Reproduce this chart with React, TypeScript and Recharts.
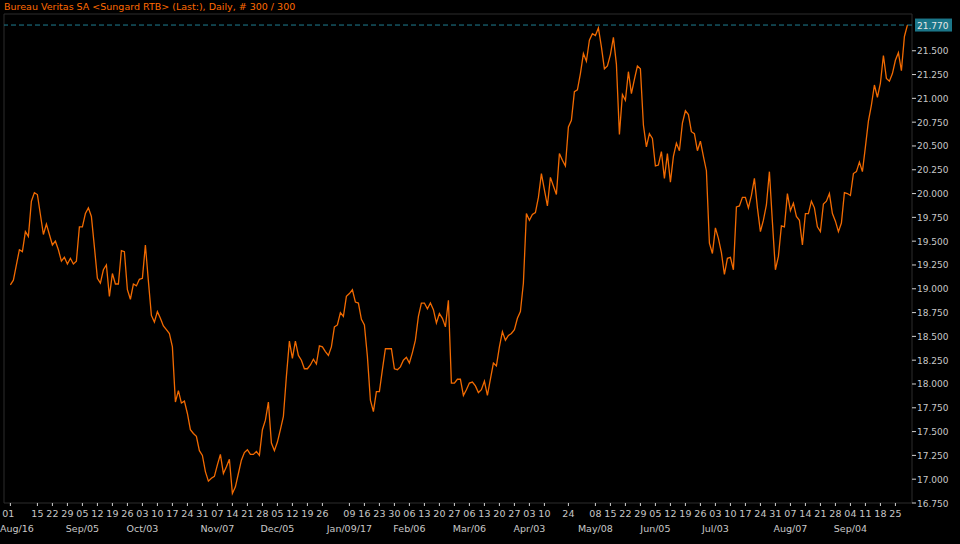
import React from 'react';
import { LineChart, Line, XAxis, YAxis, ReferenceLine, ReferenceArea } from 'recharts';

// daily closes, Aug 01 2016 .. Sep 29 2017 (300 sessions)
const prices = [
  19.04, 19.09, 19.25, 19.41, 19.39, 19.60, 19.55, 19.92, 20.01, 19.99,
  19.78, 19.57, 19.68, 19.57, 19.46, 19.50, 19.41, 19.29, 19.33, 19.26,
  19.32, 19.26, 19.29, 19.65, 19.65, 19.79, 19.85, 19.76, 19.44, 19.11,
  19.06, 19.20, 19.25, 18.92, 19.16, 19.05, 19.05, 19.40, 19.39, 18.99,
  18.89, 19.05, 19.03, 19.10, 19.11, 19.46, 19.08, 18.72, 18.65, 18.76,
  18.69, 18.61, 18.57, 18.53, 18.39, 17.81, 17.93, 17.80, 17.82, 17.69,
  17.52, 17.48, 17.45, 17.30, 17.25, 17.08, 16.98, 17.01, 17.03, 17.15,
  17.26, 17.06, 17.13, 17.21, 16.85, 16.92, 17.06, 17.20, 17.28, 17.31,
  17.26, 17.26, 17.29, 17.25, 17.52, 17.62, 17.81, 17.38, 17.30, 17.39,
  17.52, 17.66, 18.08, 18.45, 18.27, 18.45, 18.30, 18.25, 18.16, 18.16,
  18.20, 18.26, 18.21, 18.40, 18.39, 18.34, 18.30, 18.39, 18.60, 18.62,
  18.75, 18.71, 18.92, 18.95, 18.99, 18.86, 18.85, 18.68, 18.62, 18.29,
  17.83, 17.71, 17.92, 17.92, 18.15, 18.37, 18.37, 18.37, 18.16, 18.15,
  18.18, 18.25, 18.28, 18.22, 18.33, 18.46, 18.71, 18.85, 18.85, 18.79,
  18.85, 18.78, 18.64, 18.74, 18.69, 18.60, 18.88, 18.01, 18.01, 18.05,
  18.05, 17.88, 17.94, 18.01, 18.02, 17.98, 17.91, 17.94, 18.03, 17.88,
  18.05, 18.22, 18.19, 18.39, 18.55, 18.46, 18.51, 18.53, 18.57, 18.69,
  18.76, 19.06, 19.79, 19.72, 19.78, 19.80, 19.96, 20.21, 20.04, 19.87,
  20.17, 20.08, 19.99, 20.42, 20.35, 20.29, 20.70, 20.77, 21.07, 21.09,
  21.26, 21.47, 21.39, 21.61, 21.68, 21.66, 21.74, 21.54, 21.31, 21.34,
  21.46, 21.64, 21.36, 20.62, 21.04, 20.98, 21.28, 21.05, 21.20, 21.34,
  21.31, 20.72, 20.49, 20.63, 20.58, 20.29, 20.30, 20.44, 20.16, 20.42,
  20.12, 20.39, 20.53, 20.45, 20.74, 20.87, 20.83, 20.65, 20.63, 20.45,
  20.55, 20.39, 20.24, 19.48, 19.37, 19.64, 19.53, 19.38, 19.15, 19.32,
  19.33, 19.20, 19.86, 19.87, 19.96, 19.96, 19.85, 19.98, 20.16, 19.85,
  19.60, 19.72, 19.88, 20.23, 19.70, 19.20, 19.34, 19.66, 19.65, 20.00,
  19.82, 19.90, 19.76, 19.72, 19.46, 19.79, 19.79, 19.92, 19.85, 19.65,
  19.60, 19.89, 19.92, 20.00, 19.79, 19.71, 19.60, 19.69, 20.01, 20.00,
  19.98, 20.21, 20.23, 20.33, 20.23, 20.49, 20.76, 20.93, 21.14, 21.01,
  21.16, 21.45, 21.21, 21.18, 21.26, 21.40, 21.48, 21.29, 21.65, 21.77,
];

// session index of each weekly tick
const tickIndex = [
  0, 9, 14, 19, 24, 29, 34, 39, 44, 49, 54, 59, 64, 69, 74, 79, 84, 89, 94, 99, 104,
  113, 118, 123, 128, 133, 138, 143, 148, 153, 158, 163, 168, 173, 178, 186,
  195, 200, 205, 210, 215, 220, 225, 230, 235, 240, 245, 250, 255, 260, 265, 270, 275,
  280, 285, 290, 295,
];
const dayLabels = [
  '01', '15', '22', '29', '05', '12', '19', '26', '03', '10', '17', '24', '31', '07', '14', '21', '28', '05', '12', '19', '26',
  '09', '16', '23', '30', '06', '13', '20', '27', '06', '13', '20', '27', '03', '10', '24',
  '08', '15', '22', '29', '05', '12', '19', '26', '03', '10', '17', '24', '31', '07', '14', '21', '28',
  '04', '11', '18', '25',
];
const monthLabels = [
  'Aug/16', '', '', '', 'Sep/05', '', '', '', 'Oct/03', '', '', '', '', 'Nov/07', '', '', '', 'Dec/05', '', '', '',
  'Jan/09/17', '', '', '', 'Feb/06', '', '', '', 'Mar/06', '', '', '', 'Apr/03', '', '',
  'May/08', '', '', '', 'Jun/05', '', '', '', 'Jul/03', '', '', '', '', 'Aug/07', '', '', '',
  'Sep/04', '', '', '',
];
const priceTicks = [
  16.75, 17, 17.25, 17.5, 17.75, 18, 18.25, 18.5, 18.75, 19, 19.25,
  19.5, 19.75, 20, 20.25, 20.5, 20.75, 21, 21.25, 21.5, 21.75,
];
const lastPrice = 21.77;
const title = 'Bureau Veritas SA <Sungard RTB> (Last:), Daily, # 300 / 300';

const data = prices.map((price, i) => ({ i, price }));

const FONT = '"DejaVu Sans", Verdana, sans-serif';
const AXIS_TEXT = '#c8c8c8';
const X_DOMAIN = [-2.13, 300.53];
const Y_DOMAIN = [16.75, 21.886];

function DateTick(props: any) {
  const { x, y, payload } = props;
  const k = tickIndex.indexOf(payload.value);
  const month = monthLabels[k];
  const edge = x < 20;
  return (
    <g>
      <text x={edge ? x - 2 : x} y={y + 11} textAnchor="middle" fill={AXIS_TEXT} fontSize={9.5} fontFamily={FONT}>
        {dayLabels[k]}
      </text>
      {month ? (
        <text x={edge ? 0 : x} y={y + 26} textAnchor={edge ? 'start' : 'middle'} fill={AXIS_TEXT} fontSize={9.5} fontFamily={FONT}>
          {month}
        </text>
      ) : null}
    </g>
  );
}

// price tick: the one under the last-price box is covered by it
function PriceTick(props: any) {
  const { x, y, payload } = props;
  if (Math.abs(payload.value - lastPrice) < 0.1) return <g />;
  return (
    <g>
      <line x1={x - 6} x2={x - 2} y1={y} y2={y} stroke="#d0d0d0" />
      <text x={x - 1} y={y + 3.5} fill={AXIS_TEXT} fontSize={9} fontFamily={FONT}>
        {payload.value.toFixed(3)}
      </text>
    </g>
  );
}

function LastLabel(props: any) {
  const { viewBox } = props;
  const right = viewBox.x + viewBox.width;
  return (
    <g>
      <rect x={right + 3} y={viewBox.y - 6.5} width={37} height={13} fill="#1b7689" />
      <text x={right + 5} y={viewBox.y + 3.5} fill="#e6e6e6" fontSize={9} fontFamily={FONT}>
        {lastPrice.toFixed(3)}
      </text>
    </g>
  );
}

export default function App() {
  return (
    <div style={{ position: 'absolute', left: 0, top: 0, width: 960, height: 544, background: '#000' }}>
      <LineChart width={960} height={544} data={data} margin={{ top: 14, right: 0, bottom: 0, left: 4 }}>
        <ReferenceArea
          x1={X_DOMAIN[0]}
          x2={X_DOMAIN[1]}
          y1={Y_DOMAIN[0]}
          y2={Y_DOMAIN[1]}
          fill="none"
          stroke="#2c2c2c"
          ifOverflow="visible"
        />
        <XAxis
          dataKey="i"
          type="number"
          domain={X_DOMAIN}
          allowDataOverflow
          ticks={tickIndex}
          interval={0}
          height={41}
          tickSize={3}
          tickMargin={0}
          axisLine={false}
          tickLine={{ stroke: '#d0d0d0' }}
          tick={<DateTick />}
        />
        <YAxis
          orientation="right"
          type="number"
          domain={Y_DOMAIN}
          allowDataOverflow
          ticks={priceTicks}
          interval={0}
          width={48}
          tickSize={4}
          tickMargin={2}
          axisLine={false}
          tickLine={false}
          tick={<PriceTick />}
        />
        <ReferenceLine
          y={lastPrice}
          stroke="#1f7f93"
          strokeDasharray="5 3"
          label={<LastLabel />}
        />
        <Line
          type="linear"
          dataKey="price"
          stroke="#f26a00"
          strokeWidth={1.3}
          dot={false}
          isAnimationActive={false}
        />
      </LineChart>
      <div
        style={{
          position: 'absolute',
          left: 4,
          top: 1,
          color: '#ff6a00',
          fontSize: 9.5,
          fontFamily: FONT,
          lineHeight: '12px',
          whiteSpace: 'nowrap',
        }}
      >
        {title}
      </div>
    </div>
  );
}
